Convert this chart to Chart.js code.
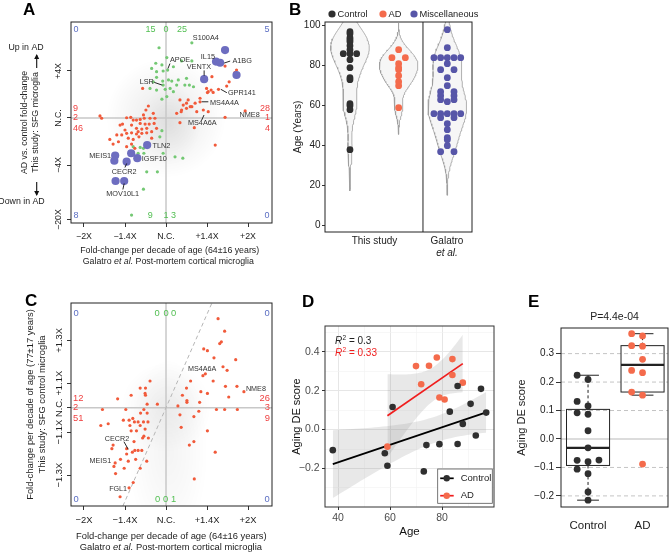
<!DOCTYPE html>
<html><head><meta charset="utf-8">
<script src="https://cdn.jsdelivr.net/npm/chart.js@4.4.1/dist/chart.umd.min.js"></script>
<style>
html,body{margin:0;padding:0;background:#fff;}
#fig{position:relative;width:672px;height:552px;overflow:hidden;font-family:"Liberation Sans",Arial,Helvetica,sans-serif;color:#222;background:#fff;}
#fig canvas{position:absolute;left:0;top:0;width:672px;height:552px;}
.tx{position:absolute;white-space:nowrap;text-align:center;width:400px;}
.lt{position:absolute;font-weight:bold;font-size:17px;line-height:17px;color:#000;}
</style></head>
<body><div id="fig">
<canvas id="cA" width="672" height="552"></canvas>
<canvas id="cB" width="672" height="552"></canvas>
<canvas id="cC" width="672" height="552"></canvas>
<canvas id="cD" width="672" height="552"></canvas>
<canvas id="cE" width="672" height="552"></canvas>
<div class="lt" style="left:23px;top:1px">A</div>
<div class="lt" style="left:289px;top:1px">B</div>
<div class="lt" style="left:25px;top:292px">C</div>
<div class="lt" style="left:302px;top:293px">D</div>
<div class="lt" style="left:528px;top:293px">E</div>
</div>
<script>
// ================= DATA =================
// Panel A / C x axis: Galatro fold-change per decade, in tick-position units
const xTickPos = [-2, -1, 0, 1, 2];
const xTickLabels = ['\u22122X', '\u22121.4X', 'N.C.', '+1.4X', '+2X'];
// Panel A y axis: AD vs control fold-change (log2 units)
const aYTickFolds = [4, 1, -4, -20];
const aYTickLabels = ['+4X', 'N.C.', '\u22124X', '\u221220X'];
const aRed = [[1.44,2.21],[1.72,2.04],[1.68,1.93],[1.12,1.76],[1.54,1.54],[1.48,1.36],[1.28,1.22],[0.99,1.26],[1.03,1.12],[1.15,1.09],
[0.83,0.84],[0.83,0.69],[0.71,0.63],[0.54,0.77],[0.34,0.77],[0.42,0.55],[0.63,0.48],[0.38,0.34],[0.50,0.41],[0.26,0.20],
[0.91,0.34],[1.03,0.27],[0.75,0.27],[1.93,0.30],[1.44,0.03],[0.34,-0.20],[0.69,-0.41],[1.20,-1.15],[-0.57,1.26],[-0.43,0.51],
[-0.49,0.34],[-0.55,0.13],[-0.31,0.20],[-1.61,0.09],[-1.57,-0.01],[-0.96,0.01],[-0.80,-0.09],[-0.72,-0.09],[-0.63,-0.06],[-0.53,-0.01],
[-0.39,-0.01],[-0.27,-0.01],[-1.12,-0.30],[-1.06,-0.26],[-0.84,-0.30],[-0.63,-0.23],[-0.51,-0.26],[-0.41,-0.26],[-0.29,-0.23],[-0.72,-0.44],
[-0.59,-0.47],[-0.47,-0.44],[-1.20,-0.72],[-1.08,-0.72],[-0.96,-0.65],[-0.84,-0.63],[-0.72,-0.68],[-0.59,-0.65],[-0.47,-0.63],[-0.35,-0.58],
[-0.92,-0.86],[-0.80,-0.91],[-0.66,-0.80],[-1.29,-1.11],[-0.84,-1.11],[-0.76,-1.29],[-0.96,-1.22],[-1.16,-1.01],[-1.37,-0.91],[-0.68,-0.58],
[-0.23,-0.44],[-0.35,-0.86],[-0.86,0.03],[-1.00,-0.51],[1.01,1.08],[0.50,0.63],[0.59,0.48],[0.37,0.27],[1.10,1.19],[1.68,1.83]];
const aGreen = [[0.63,3.20],[-0.17,2.99],[0.02,2.57],[-0.25,2.33],[-0.10,2.26],[0.04,2.04],[-0.35,2.11],[-0.23,1.97],[-0.07,2.00],[0.38,2.43],
[0.63,2.43],[0.18,2.18],[-0.23,1.73],[-0.08,1.57],[-0.31,1.54],[0.06,1.62],[0.14,1.57],[0.30,1.62],[0.46,1.40],[0.57,1.40],
[0.67,1.33],[-0.39,1.26],[-0.23,1.19],[-0.02,1.22],[0.10,1.26],[0.18,1.12],[-0.10,0.80],[0.02,0.91],[0.50,1.69],[0.26,1.40],
[-0.07,1.40],[-0.15,-0.80],[-0.55,-1.29],[-0.80,-1.22],[-0.68,-1.50],[-0.54,-1.50],[-0.07,-1.50],[0.22,-1.65],[0.41,-1.71],[-0.47,-2.29],
[-0.55,-3.03],[-0.84,-4.13],[-0.10,-0.54],[-0.63,-1.25],[-0.21,-2.29]];
const aBlue = [[1.44,2.89],[1.22,2.40],[1.32,2.35],[1.72,1.83],[0.93,1.65],[-0.46,-1.15],[-1.24,-1.60],[-1.26,-1.82],[-0.85,-1.50],[-0.70,-1.71],[-0.96,-1.86],[-1.23,-2.68],[-1.02,-2.68]];
const aCountTop = ['15','0','25'];
const aCountBottom = ['9','1','3'];
const aCountLeft = ['9','2','46'];
const aCountRight = ['28','1','4'];
const aCountCorner = ['0','5','8','0'];

// Panel B: ages
const bGroupNames = ['Control','AD','Miscellaneous'];
const bYTicks = [0, 20, 40, 60, 80, 100];
const bControlAge = [97,96,94,93,92,90,88,86,86,86,83,79,74,73,61,60,58,38];
const bGalatroAge = [98,89,84,84,84,84,84,81,78,78,74,70,67,67,65,65,63,63,62,56,56,56,56,56,54,54,51,48,44,43,40,37,37];

// Panel C: y axis = control-only aging fold-change (log2 units)
const cYTickFolds = [1.3, 1.1, 1, -1.1, -1.3];
const cYTickLabels = ['+1.3X','+1.1X','N.C.','\u22121.1X','\u22121.3X'];
const cRed = [[1.27,0.50],[1.43,0.43],[1.35,0.37],[1.31,0.36],[0.92,0.33],[1.01,0.32],[1.70,0.27],[1.17,0.28],[1.39,0.23],[1.49,0.21],
[0.96,0.19],[0.90,0.18],[0.60,0.15],[1.15,0.15],[0.50,0.11],[0.85,0.09],[1.45,0.12],[1.73,0.12],[1.90,0.09],[1.01,0.08],
[1.53,0.06],[0.40,0.07],[0.51,0.04],[0.51,0.03],[0.82,0.03],[0.29,0.01],[1.23,-0.01],[1.43,-0.01],[1.74,-0.01],[0.34,-0.04],
[0.80,-0.02],[0.68,-0.05],[0.37,-0.11],[1.01,-0.13],[0.68,-0.19],[0.57,-0.21],[1.20,-0.25],[0.69,-0.40],
[-0.39,0.15],[-0.63,0.11],[-0.50,0.11],[-0.51,0.08],[-0.50,0.07],[-0.85,0.07],[-1.18,0.05],[-0.46,0.02],[-0.21,0.02],[-1.55,-0.01],
[-0.98,-0.01],[-0.54,-0.01],[-0.62,-0.03],[-0.46,-0.03],[-1.04,-0.07],[-0.90,-0.07],[-0.77,-0.08],[-0.81,-0.06],[-0.68,-0.08],[-0.55,-0.08],
[-0.44,-0.08],[-1.41,-0.09],[-1.59,-0.10],[-0.88,-0.10],[-0.63,-0.10],[-0.51,-0.12],[-0.85,-0.13],[-0.72,-0.13],[-0.57,-0.17],[-0.43,-0.17],
[-1.29,-0.21],[-1.32,-0.23],[-0.96,-0.23],[-0.76,-0.24],[-0.68,-0.24],[-0.59,-0.24],[-0.96,-0.26],[-0.82,-0.25],[-1.11,-0.29],[-0.92,-0.30],
[-0.74,-0.29],[-0.47,-0.30],[-1.02,-0.34],[-0.63,-0.34],[-1.23,-0.37],[-0.80,-0.42],[-0.90,-0.45],[-1.12,-0.50],[-0.54,-0.16],[-0.78,-0.19],
[-1.24,-0.31],[-1.27,-0.33]];
const cCountTop = ['0','0','0'];
const cCountBottom = ['0','0','1'];
const cCountLeft = ['12','2','51'];
const cCountRight = ['26','3','9'];
const cCountCorner = ['0','0','0','0'];

// Panels D / E: aging DE score per donor
const dControlAge   = [38,58,59,61,73,74,79,83,86,86,88,91,93,95,97];
const dControlScore = [-0.106,-0.122,-0.186,0.116,-0.215,-0.080,-0.075,0.092,0.224,-0.074,0.029,0.132,-0.031,0.209,0.087];
const dAdAge   = [59,70,72,75,78,79,81,84,84,88];
const dAdScore = [-0.088,0.326,0.233,0.328,0.370,0.165,0.154,0.362,0.280,0.241];
const dR2Labels = ['0.3','0.33'];
const dXTicks = [40,50,60,70,80,90];
const dYTicks = [-0.3,-0.2,-0.1,0,0.1,0.2,0.3,0.4,0.5];
const eCategories = ['Control','AD'];
const eYTicks = [-0.2,-0.1,0,0.1,0.2,0.3];
const ePValue = 'P=4.4e-04';

// ================= STYLE / LAYOUT =================
const FONT = '"Liberation Sans", Arial, Helvetica, sans-serif';
Chart.defaults.font.family = FONT;
Chart.defaults.color = '#222';
const W = 672, H = 552;
const RED = '#f15a3a', GREEN = '#74c874', BLUE = '#6d6dc0';
const CNT_RED = '#ef3e3e', CNT_GREEN = '#52bf52', CNT_BLUE = '#5b6ec3';
const CTRL = '#2f2f2f', ADC = '#f46b4c', MISC = '#5756a8';

const aLabelLayout = [
 {g:'S100A4', s:'green', i:0, dx:1, dy:-5, al:'left'},
 {g:'APOE', s:'green', i:5, dx:2.3, dy:-10, al:'left', ln:[0.3,-1.5,2.3,-6.5]},
 {g:'VENTX', s:'blue', i:4, dx:-5.3, dy:-12.6, al:'center', ln:[0,-3.5,0,-8.8]},
 {g:'IL15', s:'blue', i:1, dx:-1, dy:-5, al:'right'},
 {g:'A1BG', s:'blue', i:2, dx:12.3, dy:-1.7, al:'left', ln:[4,0.3,10,-1.7]},
 {g:'LSR', s:'green', i:30, dx:-9.3, dy:-2.7, al:'right', ln:[-8.8,-2.7,-1,0]},
 {g:'GPR141', s:'red', i:6, dx:9.4, dy:4, al:'left', ln:[2.4,0,8.4,3.4]},
 {g:'MS4A4A', s:'red', i:11, dx:10, dy:1, al:'left', ln:[1.7,0,8.3,0]},
 {g:'NME8', s:'red', i:23, dx:-5.7, dy:4, al:'left'},
 {g:'MS4A6A', s:'red', i:20, dx:-1, dy:13.3, al:'center', ln:[0.7,5,-1.6,10]},
 {g:'TLN2', s:'blue', i:5, dx:5.4, dy:1, al:'left'},
 {g:'MEIS1', s:'blue', i:6, dx:-4, dy:0, al:'right'},
 {g:'IGSF10', s:'blue', i:9, dx:4.4, dy:1, al:'left'},
 {g:'CECR2', s:'blue', i:10, dx:-2.5, dy:10.3, al:'center', ln:[0,1.8,-1.7,5.8]},
 {g:'MOV10L1', s:'blue', i:12, dx:-1.5, dy:13.3, al:'center', ln:[0,2.5,-1.3,8.5]}
];
const cLabelLayout = [
 {g:'MS4A6A', s:'red', i:11, dx:-0.7, dy:-7, al:'center'},
 {g:'NME8', s:'red', i:18, dx:2, dy:-2.4, al:'left'},
 {g:'CECR2', s:'red', i:74, dx:-9.7, dy:-15, al:'center', ln:[-2.7,-12.3,1.6,-4.7]},
 {g:'MEIS1', s:'red', i:88, dx:-4, dy:-2, al:'right'},
 {g:'FGL1', s:'red', i:84, dx:-2, dy:1.3, al:'right'}
];

const pad = (L,T,R,B,yw,xh) => ({left:L-yw, top:T, right:W-R, bottom:H-B-xh});
const log2f = f => f === 1 ? 0 : Math.sign(f) * Math.log2(Math.abs(f));
const toPts = arr => arr.map(([x,y]) => ({x, y}));
const fmt1 = v => (Math.abs(v) < 1e-9 ? '0.0' : v.toFixed(1)).replace('-', '\u2212');

function frame(ch, color, w){const {ctx, chartArea:a} = ch; ctx.save(); ctx.strokeStyle = color; ctx.lineWidth = w || 1; ctx.strokeRect(a.left, a.top, a.width, a.height); ctx.restore();}
function haze(ch, vx, vy, rx, ry, alpha){
  const {ctx, chartArea:a, scales:{x, y}} = ch;
  const cx = x.getPixelForValue(vx), cy = y.getPixelForValue(vy);
  ctx.save(); ctx.beginPath(); ctx.rect(a.left, a.top, a.width, a.height); ctx.clip();
  ctx.translate(cx, cy); ctx.scale(1, ry / rx);
  const g = ctx.createRadialGradient(0,0,0,0,0,rx);
  g.addColorStop(0, 'rgba(0,0,0,' + alpha + ')'); g.addColorStop(0.5, 'rgba(0,0,0,' + alpha * 0.55 + ')'); g.addColorStop(1, 'rgba(0,0,0,0)');
  ctx.fillStyle = g; ctx.beginPath(); ctx.arc(0, 0, rx, 0, Math.PI * 2); ctx.fill(); ctx.restore();
}
function cross(ch){
  const {ctx, chartArea:a, scales:{x, y}} = ch;
  const px = x.getPixelForValue(0), py = y.getPixelForValue(0);
  ctx.save(); ctx.strokeStyle = '#c8c8c8'; ctx.lineWidth = 1.5; ctx.beginPath();
  ctx.moveTo(px, a.top); ctx.lineTo(px, a.bottom); ctx.moveTo(a.left, py); ctx.lineTo(a.right, py); ctx.stroke(); ctx.restore();
}
function drawDiag(ch, slope){
  const {ctx, chartArea:a, scales:{x, y}} = ch;
  ctx.save(); ctx.beginPath(); ctx.rect(a.left, a.top, a.width, a.height); ctx.clip();
  ctx.setLineDash([4,3]); ctx.strokeStyle = '#b5b5b5'; ctx.lineWidth = 1; ctx.beginPath();
  ctx.moveTo(x.getPixelForValue(y.min / slope), y.getPixelForValue(y.min));
  ctx.lineTo(x.getPixelForValue(y.max / slope), y.getPixelForValue(y.max)); ctx.stroke(); ctx.restore();
}
function drawRotY(ch, labels, size){
  const {ctx, chartArea:a, scales:{y}} = ch;
  ctx.save(); ctx.font = size + 'px ' + FONT; ctx.fillStyle = '#222'; ctx.textAlign = 'center'; ctx.textBaseline = 'middle';
  y.ticks.forEach((t, i) => { const py = y.getPixelForValue(t.value); ctx.save(); ctx.translate(a.left - 12, py); ctx.rotate(-Math.PI / 2); ctx.fillText(labels[i], 0, 0); ctx.restore(); });
  ctx.restore();
}
function drawCounts(ch, c, o){
  const {ctx, chartArea:a, scales:{x, y}} = ch;
  const x0 = x.getPixelForValue(0), y0 = y.getPixelForValue(0);
  ctx.save(); ctx.font = o.size + 'px ' + FONT; ctx.textBaseline = 'middle'; ctx.textAlign = 'center';
  const ty = a.top + o.topY, by = a.bottom - o.botY;
  ctx.fillStyle = CNT_BLUE;
  ctx.fillText(c.corner[0], a.left + 5, ty); ctx.fillText(c.corner[1], a.right - 5, ty);
  ctx.fillText(c.corner[2], a.left + 5, by); ctx.fillText(c.corner[3], a.right - 5, by);
  ctx.fillStyle = CNT_GREEN;
  c.top.forEach((t, i) => ctx.fillText(t, x0 + o.topOff[i], ty));
  c.bottom.forEach((t, i) => ctx.fillText(t, x0 + o.botOff[i], by));
  ctx.fillStyle = CNT_RED; const dy = [-9.5, 0, 10.8];
  ctx.textAlign = 'left'; c.left.forEach((t, i) => ctx.fillText(t, a.left + 2, y0 + dy[i]));
  ctx.textAlign = 'right'; c.right.forEach((t, i) => ctx.fillText(t, a.right - 2, y0 + dy[i]));
  ctx.restore();
}
function drawLabels(ch, list, sets, size){
  const {ctx, scales:{x, y}} = ch;
  ctx.save(); ctx.font = size + 'px ' + FONT; ctx.fillStyle = '#333'; ctx.strokeStyle = '#111'; ctx.lineWidth = 0.9; ctx.textBaseline = 'middle';
  list.forEach(l => {
    const [vx, vy] = sets[l.s][l.i];
    const px = x.getPixelForValue(vx), py = y.getPixelForValue(vy);
    ctx.textAlign = l.al; ctx.fillText(l.g, px + l.dx, py + l.dy);
    if (l.ln) { ctx.beginPath(); ctx.moveTo(px + l.ln[0], py + l.ln[1]); ctx.lineTo(px + l.ln[2], py + l.ln[3]); ctx.stroke(); }
  });
  ctx.restore();
}
function arrowText(ctx, text, tx, ty, ax, y1, y2, size){
  ctx.save(); ctx.font = size + 'px ' + FONT; ctx.fillStyle = '#222'; ctx.textAlign = 'center'; ctx.textBaseline = 'middle';
  ctx.fillText(text, tx, ty);
  ctx.strokeStyle = '#111'; ctx.lineWidth = 1.1; ctx.beginPath(); ctx.moveTo(ax, y1); ctx.lineTo(ax, y2); ctx.stroke();
  const d = Math.sign(y2 - y1); ctx.fillStyle = '#111'; ctx.beginPath();
  ctx.moveTo(ax, y2 + d * 1); ctx.lineTo(ax - 2.5, y2 - d * 4); ctx.lineTo(ax + 2.5, y2 - d * 4); ctx.closePath(); ctx.fill();
  ctx.restore();
}

function foldPanel(id, o){
  return new Chart(document.getElementById(id), {
    type: 'scatter',
    data: {datasets: o.sets.map(s => ({data: toPts(s.data), backgroundColor: s.color, borderWidth: 0, pointRadius: s.r, order: s.order}))},
    options: {
      responsive: false, animation: false, events: [], devicePixelRatio: 1,
      layout: {padding: pad(o.L, o.T, o.R, o.B, o.yw, 24)},
      plugins: {legend: {display: false}, tooltip: {enabled: false}},
      scales: {
        x: {type: 'linear', min: o.xmin, max: o.xmax,
          afterBuildTicks: s => { s.ticks = xTickPos.map(v => ({value: v})); },
          afterFit: s => { s.height = 24; },
          ticks: {callback: (v, i) => xTickLabels[i], font: {size: o.font}, color: '#222', padding: o.xpad, maxRotation: 0, autoSkip: false},
          grid: {drawOnChartArea: false, drawTicks: true, tickLength: 4, tickColor: '#333', tickWidth: 1},
          border: {display: false}},
        y: {type: 'linear', min: o.ymin, max: o.ymax,
          afterBuildTicks: s => { s.ticks = o.yTickFolds.map(f => ({value: log2f(f)})); },
          afterFit: s => { s.width = o.yw; },
          ticks: {display: false},
          grid: {drawOnChartArea: false, drawTicks: true, tickLength: 4, tickColor: '#333', tickWidth: 1},
          border: {display: false},
          title: {display: true, text: o.yTitle, color: '#222', font: {size: o.font, lineHeight: 1.25}, padding: {top: 0, bottom: 0}}}
      }
    },
    plugins: [{id: 'deco' + id,
      beforeDatasetsDraw(ch){ o.hazes.forEach(h => haze(ch, h[0], h[1], h[2], h[3], h[4])); cross(ch); if (o.diag) drawDiag(ch, o.diag); },
      afterDatasetsDraw(ch){ frame(ch, '#222', 1); drawRotY(ch, o.yTickLabels, o.font); drawCounts(ch, o.counts, o.countLayout); drawLabels(ch, o.labels, o.named, o.labelFont); if (o.extra) o.extra(ch); }}]
  });
}

// ---------- Panel A ----------
foldPanel('cA', {
  L: 71, T: 22, R: 272, B: 223, yw: 51.5, font: 8.8, xpad: 4.5, labelFont: 7.3,
  xmin: -2.317, xmax: 2.585, ymin: -4.468, ymax: 4.085,
  yTickFolds: aYTickFolds, yTickLabels: aYTickLabels,
  yTitle: ['AD vs. control fold-change', 'This study: SFG microglia'],
  sets: [{data: aBlue, color: BLUE, r: 4.1, order: 1}, {data: aRed, color: RED, r: 1.6, order: 2}, {data: aGreen, color: GREEN, r: 1.6, order: 3}],
  named: {red: aRed, green: aGreen, blue: aBlue},
  hazes: [[0, 0, 60, 60, 0.085], [0.1, -0.3, 30, 40, 0.05]],
  counts: {top: aCountTop, bottom: aCountBottom, left: aCountLeft, right: aCountRight, corner: aCountCorner},
  countLayout: {size: 9, topY: 8, botY: 7, topOff: [-15.5, 0, 16], botOff: [-15.7, 0, 7.6]},
  labels: aLabelLayout,
  extra(ch){ const ctx = ch.ctx; arrowText(ctx, 'Up in AD', 26, 48, 36.7, 68, 55, 8.8); arrowText(ctx, 'Down in AD', 21.5, 202, 36.7, 182, 195, 8.8); }
});

// ---------- Panel C ----------
foldPanel('cC', {
  L: 71, T: 303, R: 272, B: 506, yw: 46.5, font: 9.4, xpad: 4.5, labelFont: 7.2,
  xmin: -2.317, xmax: 2.585, ymin: -0.552, ymax: 0.588,
  yTickFolds: cYTickFolds, yTickLabels: cYTickLabels,
  yTitle: ['Fold-change per decade of age (77\u00b117 years)', 'This study: SFG control microglia'],
  sets: [{data: cRed, color: RED, r: 1.6, order: 1}],
  named: {red: cRed},
  hazes: [[0, 0, 45, 45, 0.06], [0.05, -0.25, 40, 95, 0.045]],
  diag: 0.525,
  counts: {top: cCountTop, bottom: cCountBottom, left: cCountLeft, right: cCountRight, corner: cCountCorner},
  countLayout: {size: 9.4, topY: 10.3, botY: 6.7, topOff: [-9, 0, 7.6], botOff: [-8.5, -0.5, 7.6]},
  labels: cLabelLayout
});

// ---------- Panel B ----------
function quantile7(s, p){ const h = (s.length - 1) * p, lo = Math.floor(h); return s[lo] + (h - lo) * ((lo + 1 < s.length ? s[lo + 1] : s[lo]) - s[lo]); }
function bwNrd0(v){
  const n = v.length, m = v.reduce((a, b) => a + b, 0) / n;
  const sd = Math.sqrt(v.reduce((a, b) => a + (b - m) * (b - m), 0) / (n - 1));
  const s = [...v].sort((a, b) => a - b);
  const iqr = quantile7(s, 0.75) - quantile7(s, 0.25);
  return 0.9 * Math.min(sd, iqr / 1.34) * Math.pow(n, -0.2);
}
function violinPath(v, pos, halfW){
  const bw = bwNrd0(v), lo = Math.min(...v) - 3 * bw, hi = Math.max(...v) + 3 * bw, N = 120;
  const ys = [], ds = [];
  for (let i = 0; i <= N; i++) { const y = lo + (hi - lo) * i / N; ys.push(y); ds.push(v.reduce((a, xi) => a + Math.exp(-0.5 * ((y - xi) / bw) ** 2), 0)); }
  const mx = Math.max(...ds);
  const right = ys.map((y, i) => ({x: pos + halfW * ds[i] / mx, y}));
  const left = ys.map((y, i) => ({x: pos - halfW * ds[i] / mx, y})).reverse();
  return right.concat(left, [right[0]]);
}
function dupOffsets(vals){
  const cnt = {}, seen = {};
  vals.forEach(v => cnt[v] = (cnt[v] || 0) + 1);
  return vals.map(v => { const n = cnt[v]; const k = (seen[v] = (seen[v] || 0) + 1) - 1;
    if (n % 2) return k - (n - 1) / 2; const half = n / 2; return k < half ? -(half - k) : (k - half + 1); });
}
const bGroups = [{ages: bControlAge, pos: 1, color: CTRL}, {ages: dAdAge, pos: 2, color: ADC}, {ages: bGalatroAge, pos: 3, color: MISC}];
const bStep = 0.1375, bHalf = 0.396;
const bSets = [];
bGroups.forEach(g => bSets.push({type: 'line', data: violinPath(g.ages, g.pos, bHalf), fill: 'shape', backgroundColor: '#f6f6f6', borderColor: '#9d9d9d', borderWidth: 0.8, pointRadius: 0, tension: 0, order: 10}));
bGroups.forEach(g => { const off = dupOffsets(g.ages); bSets.push({data: g.ages.map((v, i) => ({x: g.pos + off[i] * bStep, y: v})), backgroundColor: g.color, borderWidth: 0, pointRadius: 3.4, order: 1}); });
new Chart(document.getElementById('cB'), {
  type: 'scatter',
  data: {datasets: bSets},
  options: {
    responsive: false, animation: false, events: [], devicePixelRatio: 1,
    layout: {padding: pad(325, 22, 472, 232, 33, 0)},
    plugins: {legend: {display: false}, tooltip: {enabled: false}},
    scales: {
      x: {type: 'linear', display: false, min: 0.487, max: 3.507},
      y: {type: 'linear', min: -3.15, max: 101.85,
        afterBuildTicks: s => { s.ticks = bYTicks.map(v => ({value: v})); },
        afterFit: s => { s.width = 33; },
        ticks: {font: {size: 10}, color: '#222', padding: 1.5},
        grid: {drawOnChartArea: false, tickLength: 3, tickColor: '#333'},
        border: {display: false},
        title: {display: true, text: 'Age (Years)', color: '#222', font: {size: 10}, padding: {top: 0, bottom: 0}}}
    }
  },
  plugins: [{id: 'decoB',
    afterDatasetsDraw(ch){
      const {ctx, chartArea: a, scales: {x}} = ch;
      frame(ch, '#222', 1);
      const px = x.getPixelForValue(2.5);
      ctx.save(); ctx.strokeStyle = '#222'; ctx.lineWidth = 1; ctx.beginPath(); ctx.moveTo(px, a.top); ctx.lineTo(px, a.bottom); ctx.stroke();
      const lx = [332, 383, 414], cols = [CTRL, ADC, MISC];
      ctx.font = '9.3px ' + FONT; ctx.textBaseline = 'middle'; ctx.textAlign = 'left';
      bGroupNames.forEach((n, i) => { ctx.fillStyle = cols[i]; ctx.beginPath(); ctx.arc(lx[i], 14, 3.6, 0, Math.PI * 2); ctx.fill(); ctx.fillStyle = '#222'; ctx.fillText(n, lx[i] + 5.5, 14); });
      ctx.restore();
    }}]
});

// ---------- Panel D ----------
const T975 = {1:12.706,2:4.303,3:3.182,4:2.776,5:2.571,6:2.447,7:2.365,8:2.306,9:2.262,10:2.228,11:2.201,12:2.179,13:2.160,14:2.145,15:2.131,16:2.120,17:2.110,18:2.101,19:2.093,20:2.086};
function linFit(xs, ys){
  const n = xs.length, mx = xs.reduce((a, b) => a + b, 0) / n, my = ys.reduce((a, b) => a + b, 0) / n;
  let sxx = 0, sxy = 0; xs.forEach((x, i) => { sxx += (x - mx) ** 2; sxy += (x - mx) * (ys[i] - my); });
  const b = sxy / sxx, a0 = my - b * mx;
  const rss = xs.reduce((s, x, i) => s + (ys[i] - a0 - b * x) ** 2, 0);
  const se = Math.sqrt(rss / (n - 2)), t = T975[n - 2] || 2;
  const x1 = Math.min(...xs), x2 = Math.max(...xs), N = 40;
  const lo = [], hi = [];
  for (let k = 0; k <= N; k++) { const x = x1 + (x2 - x1) * k / N, f = a0 + b * x, w = t * se * Math.sqrt(1 / n + (x - mx) ** 2 / sxx); lo.push({x, y: f - w}); hi.push({x, y: f + w}); }
  return {line: [{x: x1, y: a0 + b * x1}, {x: x2, y: a0 + b * x2}], lo, hi};
}
const fitC = linFit(dControlAge, dControlScore), fitA = linFit(dAdAge, dAdScore);
const BAND = 'rgba(150,150,150,0.22)';
const xMajor = v => Math.round(v) % 20 === 0;
const yMajor = v => Math.round(v * 10) % 2 === 0;
new Chart(document.getElementById('cD'), {
  type: 'scatter',
  data: {datasets: [
    {type: 'line', data: fitC.lo, borderWidth: 0, pointRadius: 0, fill: false, order: 20},
    {type: 'line', data: fitC.hi, borderWidth: 0, pointRadius: 0, fill: '-1', backgroundColor: BAND, order: 20},
    {type: 'line', data: fitA.lo, borderWidth: 0, pointRadius: 0, fill: false, order: 19},
    {type: 'line', data: fitA.hi, borderWidth: 0, pointRadius: 0, fill: '-1', backgroundColor: BAND, order: 19},
    {type: 'line', data: fitC.line, borderColor: '#000', borderWidth: 1.7, pointRadius: 0, fill: false, order: 5},
    {type: 'line', data: fitA.line, borderColor: '#f01e1e', borderWidth: 1.7, pointRadius: 0, fill: false, order: 5},
    {data: dControlAge.map((x, i) => ({x, y: dControlScore[i]})), backgroundColor: CTRL, borderWidth: 0, pointRadius: 3.3, order: 1},
    {data: dAdAge.map((x, i) => ({x, y: dAdScore[i]})), backgroundColor: ADC, borderWidth: 0, pointRadius: 3.3, order: 1}
  ]},
  options: {
    responsive: false, animation: false, events: [], devicePixelRatio: 1,
    layout: {padding: pad(325, 326, 494, 507, 35, 31.9)},
    plugins: {legend: {display: false}, tooltip: {enabled: false}},
    scales: {
      x: {type: 'linear', min: 35, max: 100,
        afterBuildTicks: s => { s.ticks = dXTicks.map(v => ({value: v})); },
        afterFit: s => { s.height = 31.9; },
        ticks: {callback: v => xMajor(v) ? String(v) : '', font: {size: 10.5}, color: '#4d4d4d', padding: 2, maxRotation: 0, autoSkip: false},
        grid: {color: c => (c.tick && xMajor(c.tick.value)) ? '#e6e6e6' : '#f2f2f2', lineWidth: c => (c.tick && xMajor(c.tick.value)) ? 1 : 0.6,
               tickColor: c => (c.tick && xMajor(c.tick.value)) ? '#333' : 'rgba(0,0,0,0)', tickLength: 3},
        border: {display: false},
        title: {display: true, text: 'Age', color: '#111', font: {size: 11.5}, padding: {top: 0, bottom: 0}}},
      y: {type: 'linear', min: -0.398, max: 0.532,
        afterBuildTicks: s => { s.ticks = dYTicks.map(v => ({value: v})); },
        afterFit: s => { s.width = 35; },
        ticks: {callback: v => yMajor(v) ? fmt1(v) : '', font: {size: 10.5}, color: '#4d4d4d', padding: 2.5, autoSkip: false},
        grid: {color: c => (c.tick && yMajor(c.tick.value)) ? '#e6e6e6' : '#f2f2f2', lineWidth: c => (c.tick && yMajor(c.tick.value)) ? 1 : 0.6,
               tickColor: c => (c.tick && yMajor(c.tick.value)) ? '#333' : 'rgba(0,0,0,0)', tickLength: 3},
        border: {display: false},
        title: {display: true, text: 'Aging DE score', color: '#111', font: {size: 11}, padding: {top: 0, bottom: 0}}}
    }
  },
  plugins: [{id: 'decoD',
    afterDatasetsDraw(ch){
      const {ctx, chartArea: a} = ch;
      frame(ch, '#333', 1);
      const r2 = (val, y, color) => {
        let x = a.left + 10; ctx.fillStyle = color; ctx.textAlign = 'left'; ctx.textBaseline = 'middle';
        ctx.font = 'italic 10px ' + FONT; ctx.fillText('R', x, y); x += ctx.measureText('R').width + 0.3;
        ctx.font = '6.5px ' + FONT; ctx.fillText('2', x, y - 3.5); x += ctx.measureText('2').width;
        ctx.font = '10px ' + FONT; ctx.fillText(' = ' + val, x, y);
      };
      ctx.save();
      r2(dR2Labels[0], a.top + 15.7, '#222'); r2(dR2Labels[1], a.top + 27.3, '#f01e1e');
      const bx = a.right - 56.3, by = a.bottom - 38, bw = 54.6, bh = 34.3;
      ctx.fillStyle = '#fff'; ctx.fillRect(bx, by, bw, bh); ctx.strokeStyle = '#555'; ctx.lineWidth = 0.8; ctx.strokeRect(bx, by, bw, bh);
      const ent = [[eCategories[0], '#000', CTRL, by + 9.3], [eCategories[1], '#f01e1e', ADC, by + 26.7]];
      ent.forEach(([lab, lc, pc, yy]) => {
        ctx.strokeStyle = lc; ctx.lineWidth = 1.7; ctx.beginPath(); ctx.moveTo(bx + 2.5, yy); ctx.lineTo(bx + 16, yy); ctx.stroke();
        ctx.fillStyle = pc; ctx.beginPath(); ctx.arc(bx + 9, yy, 3.2, 0, Math.PI * 2); ctx.fill();
        ctx.fillStyle = '#222'; ctx.font = '9.5px ' + FONT; ctx.textAlign = 'left'; ctx.fillText(lab, bx + 23, yy);
      });
      ctx.restore();
    }}]
});

// ---------- Panel E ----------
function fivenum(v){ const s = [...v].sort((a, b) => a - b), n = s.length, n4 = Math.floor((n + 3) / 2) / 2;
  return [1, n4, (n + 1) / 2, n + 1 - n4, n].map(k => 0.5 * (s[Math.floor(k) - 1] + s[Math.ceil(k) - 1])); }
function boxStats(v){ const f = fivenum(v), iqr = f[3] - f[1], lo = f[1] - 1.5 * iqr, hi = f[3] + 1.5 * iqr;
  const ins = v.filter(x => x >= lo && x <= hi); return {q1: f[1], med: f[2], q3: f[3], wlo: Math.min(...ins), whi: Math.max(...ins)}; }
function swarm(vals, thr){
  const order = vals.map((v, i) => i).sort((a, b) => vals[a] - vals[b]);
  const slots = new Array(vals.length), placed = [], cand = [0, -1, 1, -2, 2, -3, 3];
  order.forEach(i => { for (const c of cand) { if (!placed.some(p => p.s === c && Math.abs(p.v - vals[i]) < thr)) { slots[i] = c; placed.push({s: c, v: vals[i]}); break; } } });
  return slots;
}
const eGroups = [{vals: dControlScore, pos: 0, color: CTRL}, {vals: dAdScore, pos: 1, color: ADC}];
const eStep = 0.2, eHalf = 0.395, eCap = 0.2;
new Chart(document.getElementById('cE'), {
  type: 'scatter',
  data: {datasets: eGroups.map(g => { const sl = swarm(g.vals, 0.0246); return {data: g.vals.map((v, i) => ({x: g.pos + sl[i] * eStep, y: v})), backgroundColor: g.color, borderWidth: 0, pointRadius: 3.4}; })},
  options: {
    responsive: false, animation: false, events: [], devicePixelRatio: 1,
    layout: {padding: pad(561, 328 - 17.6, 670, 507, 46, 30)},
    plugins: {legend: {display: false}, tooltip: {enabled: false},
      title: {display: true, text: ePValue, fullSize: false, color: '#222', font: {size: 10.5, weight: 'normal', lineHeight: 1.2}, padding: {top: 0, bottom: 5}}},
    scales: {
      x: {type: 'linear', min: -0.496, max: 1.467,
        afterBuildTicks: s => { s.ticks = eCategories.map((c, i) => ({value: i})); },
        afterFit: s => { s.height = 30; },
        ticks: {callback: (v, i) => eCategories[i], font: {size: 11.5}, color: '#222', padding: 3.5, maxRotation: 0, autoSkip: false},
        grid: {display: false}, border: {display: false}},
      y: {type: 'linear', min: -0.239, max: 0.39,
        afterBuildTicks: s => { s.ticks = eYTicks.map(v => ({value: v})); },
        afterFit: s => { s.width = 46; },
        ticks: {callback: v => fmt1(v), font: {size: 10}, color: '#222', padding: 2, autoSkip: false},
        grid: {drawOnChartArea: false, tickLength: 5, tickColor: '#333'},
        border: {display: false},
        title: {display: true, text: 'Aging DE score', color: '#222', font: {size: 11}, padding: {top: 0, bottom: 0}}}
    }
  },
  plugins: [{id: 'decoE',
    beforeDatasetsDraw(ch){
      const {ctx, chartArea: a, scales: {x, y}} = ch;
      ctx.save();
      y.ticks.forEach(t => { const py = y.getPixelForValue(t.value); ctx.beginPath();
        if (Math.abs(t.value) < 1e-9) { ctx.setLineDash([]); ctx.strokeStyle = '#d0d0d0'; ctx.lineWidth = 1.5; }
        else { ctx.setLineDash([4, 3]); ctx.strokeStyle = '#c4c4c4'; ctx.lineWidth = 1; }
        ctx.moveTo(a.left, py); ctx.lineTo(a.right, py); ctx.stroke(); });
      eGroups.forEach(g => {
        const st = boxStats(g.vals), X = v => x.getPixelForValue(v), Y = v => y.getPixelForValue(v);
        ctx.strokeStyle = '#222'; ctx.setLineDash([]); ctx.lineWidth = 1;
        ctx.strokeRect(X(g.pos - eHalf), Y(st.q3), X(g.pos + eHalf) - X(g.pos - eHalf), Y(st.q1) - Y(st.q3));
        ctx.beginPath(); ctx.moveTo(X(g.pos - eCap), Y(st.whi)); ctx.lineTo(X(g.pos + eCap), Y(st.whi));
        ctx.moveTo(X(g.pos - eCap), Y(st.wlo)); ctx.lineTo(X(g.pos + eCap), Y(st.wlo)); ctx.stroke();
        ctx.setLineDash([3, 2.5]); ctx.beginPath();
        ctx.moveTo(X(g.pos), Y(st.q3)); ctx.lineTo(X(g.pos), Y(st.whi));
        ctx.moveTo(X(g.pos), Y(st.q1)); ctx.lineTo(X(g.pos), Y(st.wlo)); ctx.stroke();
        ctx.setLineDash([]); ctx.lineWidth = 2.2; ctx.beginPath();
        ctx.moveTo(X(g.pos - eHalf), Y(st.med)); ctx.lineTo(X(g.pos + eHalf), Y(st.med)); ctx.stroke();
      });
      ctx.restore();
    },
    afterDatasetsDraw(ch){ frame(ch, '#222', 1); }}]
});

// ---------- HTML text (mixed italic titles) ----------
const fig = document.getElementById('fig');
function txt(html, cx, cy, size){
  const d = document.createElement('div'); d.className = 'tx'; d.innerHTML = html;
  d.style.left = (cx - 200) + 'px'; d.style.top = (cy - size * 0.6) + 'px';
  d.style.fontSize = size + 'px'; d.style.lineHeight = (size * 1.2) + 'px'; fig.appendChild(d);
}
const xTitle1 = 'Fold-change per decade of age (64\u00b116 years)';
const xTitle2 = 'Galatro <i>et al.</i> Post-mortem cortical microglia';
txt(xTitle1, 169.7, 250.7, 8.8); txt(xTitle2, 168.3, 261.7, 8.8);
txt(xTitle1, 171.3, 536, 9.4); txt(xTitle2, 170.8, 546.7, 9.4);
txt('This study', 374.5, 241, 10); txt('Galatro', 447, 241, 10); txt('<i>et al.</i>', 447, 252.7, 10);
</script>
</body></html>
